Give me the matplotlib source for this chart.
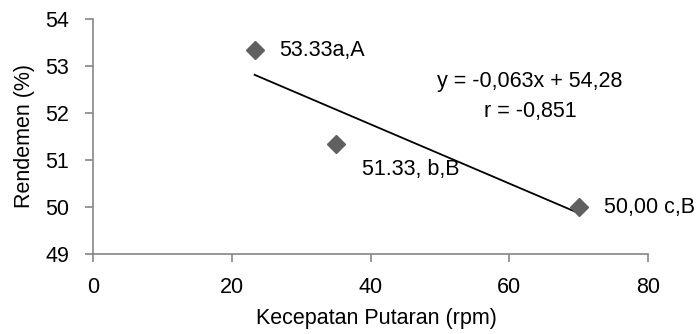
import matplotlib
matplotlib.use("Agg")
import matplotlib.pyplot as plt
import numpy as np

plt.rcParams['font.family'] = ['Liberation Sans', 'DejaVu Sans']

# data
speed = [23.3, 35.0, 70.0]          # rpm
yield_pct = [53.33, 51.33, 50.00]   # %
point_labels = ["53.33a,A", "51.33, b,B", "50,00 c,B"]
slope = -0.063
intercept = 54.28

fig = plt.figure(figsize=(6.98, 3.34), dpi=100)
ax = fig.add_axes([93 / 698, 1 - 254 / 334, (648 - 93) / 698, (254 - 19) / 334])

gray = "#868686"
fs = 15.5

# trendline
xs = np.array([min(speed), max(speed)])
ax.plot(xs, slope * xs + intercept, color="black", lw=1.3, zorder=2)

ax.plot(speed, yield_pct, linestyle="none", marker="D", markersize=9.5,
        color="#606060", zorder=3)

offsets = [(18, 0), (18.5, -18), (18.5, 0)]
for x, y, lab, off in zip(speed, yield_pct, point_labels, offsets):
    ax.annotate(lab, (x, y), xytext=off, textcoords="offset points",
                ha="left", va="center", fontsize=fs)

ax.text(63.0, 52.68, "y = -0,063x + 54,28", ha="center", va="center", fontsize=fs)
ax.text(63.0, 52.04, "r = -0,851", ha="center", va="center", fontsize=fs)

ax.set_xlim(0, 80)
ax.set_ylim(49, 54)
ax.set_xticks([0, 20, 40, 60, 80])
ax.set_yticks([49, 50, 51, 52, 53, 54])

for side in ["top", "right"]:
    ax.spines[side].set_visible(False)
for side in ["left", "bottom"]:
    ax.spines[side].set_color(gray)
    ax.spines[side].set_linewidth(1.2)
ax.tick_params(colors=gray, labelcolor="black", labelsize=fs, length=6, width=1.2, direction="out")
ax.tick_params(axis="x", pad=10.5)
ax.tick_params(axis="y", pad=11)

ax.set_xlabel("Kecepatan Putaran (rpm)", fontsize=fs, va="top")
ax.xaxis.set_label_coords(0.51, -0.229)
ax.set_ylabel("Rendemen (%)", fontsize=fs, va="center")
ax.yaxis.set_label_coords(-0.124, 0.5)

fig.savefig("out.png", dpi=100)
